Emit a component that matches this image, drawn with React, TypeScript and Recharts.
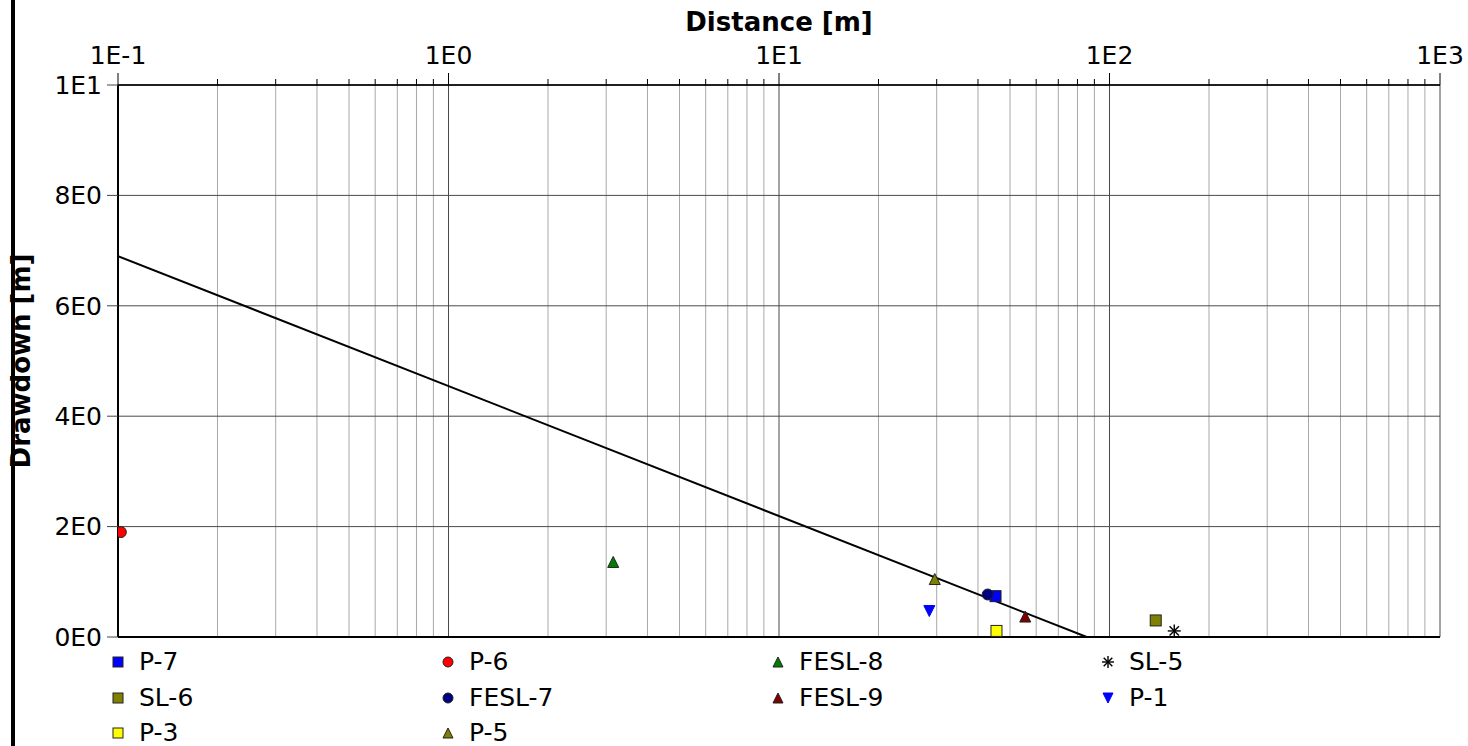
import React from 'react';
import {
  ScatterChart,
  Scatter,
  XAxis,
  YAxis,
  ReferenceLine,
} from 'recharts';

// Observation wells
const stations = ['P-7', 'P-6', 'FESL-8', 'SL-5', 'SL-6', 'FESL-7', 'FESL-9', 'P-1', 'P-3', 'P-5'];
const distances = [45.2, 0.102, 3.15, 157, 138, 42.8, 55.6, 28.5, 45.5, 29.6];
const drawdowns = [0.74, 1.9, 1.36, 0.11, 0.3, 0.77, 0.37, 0.47, 0.11, 1.05];
const colors = ['#0000ff', '#ff0000', '#008000', '#000000', '#808000', '#000080', '#800000', '#0000ff', '#ffff00', '#808000'];
const markers = ['square', 'circle', 'triangle', 'star', 'square', 'circle', 'triangle', 'triangleDown', 'square', 'triangle'];

// Fitted straight line
const fitDistance = [0.1, 85.3];
const fitDrawdown = [6.9, 0];

// Axes
const xMajor = [0.1, 1, 10, 100, 1000];
const xMajorLabels = ['1E-1', '1E0', '1E1', '1E2', '1E3'];
const xMinor = [
  0.2, 0.3, 0.4, 0.5, 0.6, 0.7, 0.8, 0.9,
  2, 3, 4, 5, 6, 7, 8, 9,
  20, 30, 40, 50, 60, 70, 80, 90,
  200, 300, 400, 500, 600, 700, 800, 900,
];
const yTicks = [0, 2, 4, 6, 8, 10];
const yTickLabels = ['0E0', '2E0', '4E0', '6E0', '8E0', '1E1'];

const FONT = '"DejaVu Sans", Verdana, sans-serif';
const PLOT_TOP = 85;

const Marker = ({ kind, color, cx, cy, s }: any) => {
  const h = s / 2;
  if (kind === 'square') {
    return <rect x={cx - h} y={cy - h} width={s} height={s} fill={color} stroke="#222" strokeWidth={1} />;
  }
  if (kind === 'circle') {
    return <circle cx={cx} cy={cy} r={h} fill={color} stroke="#222" strokeWidth={1} />;
  }
  if (kind === 'triangle') {
    return (
      <polygon
        points={`${cx},${cy - h} ${cx + h},${cy + h} ${cx - h},${cy + h}`}
        fill={color}
        stroke="#222"
        strokeWidth={1}
      />
    );
  }
  if (kind === 'triangleDown') {
    return (
      <polygon
        points={`${cx - h},${cy - h} ${cx + h},${cy - h} ${cx},${cy + h}`}
        fill={color}
        stroke={color}
        strokeWidth={1}
      />
    );
  }
  // asterisk
  const d = h * 0.72;
  return (
    <g stroke="#000" strokeWidth={1.4}>
      <line x1={cx} y1={cy - h} x2={cx} y2={cy + h} />
      <line x1={cx - h} y1={cy} x2={cx + h} y2={cy} />
      <line x1={cx - d} y1={cy - d} x2={cx + d} y2={cy + d} />
      <line x1={cx - d} y1={cy + d} x2={cx + d} y2={cy - d} />
    </g>
  );
};

const XTick = ({ x, payload }: any) => {
  const idx = xMajor.indexOf(payload.value);
  const major = idx >= 0;
  return (
    <g>
      <line x1={x} x2={x} y1={PLOT_TOP - (major ? 12 : 6)} y2={PLOT_TOP} stroke="#000" strokeWidth={1} />
      {major && (
        <text x={x} y={PLOT_TOP - 21} textAnchor="middle" fontSize={25} fontFamily={FONT} fill="#000">
          {xMajorLabels[idx]}
        </text>
      )}
    </g>
  );
};

const YLabel = ({ viewBox }: any) => {
  const cy = viewBox.y + viewBox.height / 2;
  return (
    <text
      x={21}
      y={cy}
      transform={`rotate(-90, 21, ${cy})`}
      textAnchor="middle"
      dominantBaseline="central"
      fontSize={26}
      fontWeight="bold"
      fontFamily={FONT}
      fill="#000"
    >
      Drawdown [m]
    </text>
  );
};

const legendCols = [118, 448, 778, 1108];
const legendRows = [662, 698, 733];

const App: React.FC = () => {
  const fitData = fitDistance.map((d, i) => ({ x: d, y: fitDrawdown[i] }));

  return (
    <div style={{ position: 'absolute', left: 0, top: 0, width: 1468, height: 746, background: '#fff', fontFamily: FONT, overflow: 'hidden' }}>
      <ScatterChart width={1468} height={746} margin={{ top: 0, right: 28, bottom: 109, left: 0 }}>
        <XAxis
          type="number"
          dataKey="x"
          scale="log"
          domain={[0.1, 1000]}
          allowDataOverflow
          ticks={[...xMajor, ...xMinor]}
          interval={0}
          orientation="top"
          height={85}
          tickLine={false}
          tick={(props: any) => <XTick {...props} />}
          axisLine={{ stroke: '#000', strokeWidth: 1.5 }}
          label={{
            value: 'Distance [m]',
            position: 'insideTop',
            offset: 13,
            fontSize: 26,
            fontWeight: 'bold',
            fontFamily: FONT,
            fill: '#000',
          }}
        />
        <YAxis
          type="number"
          dataKey="y"
          domain={[0, 10]}
          allowDataOverflow
          ticks={yTicks}
          interval={0}
          width={118}
          tickSize={11}
          tickMargin={5}
          tickFormatter={(v: number) => yTickLabels[yTicks.indexOf(v)]}
          tick={{ fontSize: 25, fontFamily: FONT, fill: '#000' }}
          tickLine={{ stroke: '#444' }}
          axisLine={{ stroke: '#000', strokeWidth: 2 }}
          label={<YLabel />}
        />

        {/* minor vertical grid */}
        {xMinor.map((v) => (
          <ReferenceLine key={`mn${v}`} x={v} stroke="#a8a8a8" strokeWidth={1} />
        ))}
        {/* major vertical grid */}
        {xMajor.slice(1).map((v) => (
          <ReferenceLine key={`mj${v}`} x={v} stroke="#4a4a4a" strokeWidth={1} />
        ))}
        {/* horizontal grid */}
        {yTicks.slice(1).map((v) => (
          <ReferenceLine key={`h${v}`} y={v} stroke={v === 10 ? '#000' : '#4a4a4a'} strokeWidth={1} />
        ))}
        <ReferenceLine y={0} stroke="#000" strokeWidth={2} />

        <Scatter
          name="fit"
          data={fitData}
          line={{ stroke: '#000', strokeWidth: 2 }}
          shape={() => <g />}
          legendType="none"
          isAnimationActive={false}
        />

        {stations.map((st, i) => (
          <Scatter
            key={st}
            name={st}
            data={[{ x: distances[i], y: drawdowns[i] }]}
            fill={colors[i]}
            isAnimationActive={false}
            shape={(p: any) => <Marker kind={markers[i]} color={colors[i]} cx={p.cx} cy={p.cy} s={markers[i] === 'star' ? 13 : 11} />}
          />
        ))}
      </ScatterChart>

      {/* legend */}
      {stations.map((st, i) => {
        const cx = legendCols[i % 4];
        const cy = legendRows[Math.floor(i / 4)];
        return (
          <div
            key={`lg${st}`}
            style={{
              position: 'absolute',
              left: cx - 8,
              top: cy - 15,
              height: 30,
              display: 'flex',
              alignItems: 'center',
              whiteSpace: 'nowrap',
            }}
          >
            <svg width={16} height={16} style={{ display: 'block' }}>
              <Marker kind={markers[i]} color={colors[i]} cx={8} cy={8} s={markers[i] === 'star' ? 12 : 10} />
            </svg>
            <span style={{ marginLeft: 13, fontSize: 25, color: '#000', lineHeight: '30px' }}>{st}</span>
          </div>
        );
      })}

      {/* frame line on the left */}
      <div style={{ position: 'absolute', left: 11, top: 0, width: 4, height: 746, background: '#000' }} />
    </div>
  );
};

export default App;
